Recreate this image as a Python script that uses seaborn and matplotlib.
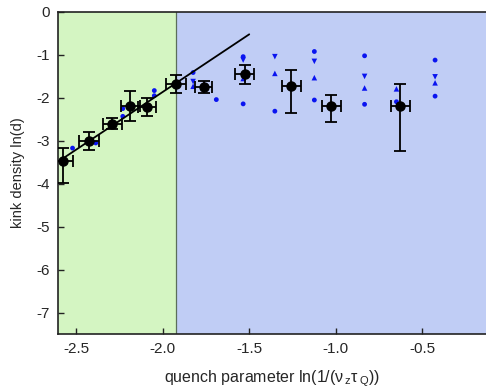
import numpy as np
import pandas as pd
import matplotlib
matplotlib.use("Agg")
import matplotlib.pyplot as plt
import seaborn as sns

# ---- data ----
mean_x = [-2.574, -2.425, -2.29, -2.187, -2.09, -1.923, -1.763, -1.525, -1.257, -1.025, -0.628]
mean_y = [-3.47, -3.00, -2.60, -2.19, -2.22, -1.68, -1.74, -1.45, -1.72, -2.20, -2.18]
yerr_lo = [0.52, 0.21, 0.13, 0.35, 0.21, 0.21, 0.14, 0.22, 0.64, 0.37, 1.05]
yerr_hi = [0.31, 0.21, 0.13, 0.35, 0.21, 0.21, 0.14, 0.22, 0.38, 0.27, 0.50]
xerr = [0.058, 0.056, 0.054, 0.056, 0.054, 0.058, 0.05, 0.055, 0.056, 0.055, 0.056]

circ_x = [-2.52, -2.386, -2.23, -2.23, -2.048, -2.048, -1.824, -1.69, -1.535, -1.535,
          -1.352, -1.124, -1.124, -0.834, -0.834, -0.65, -0.427, -0.427]
circ_y = [-3.17, -3.05, -2.25, -2.43, -1.83, -1.95, -1.41, -2.04, -1.04, -2.14,
          -2.31, -0.92, -2.05, -1.02, -2.15, -2.09, -1.12, -1.96]
tdown_x = [-1.824, -1.535, -1.352, -1.124, -0.834, -0.427]
tdown_y = [-1.62, -1.12, -1.04, -1.15, -1.50, -1.51]
tup_x = [-1.824, -1.535, -1.352, -1.124, -0.834, -0.65, -0.427]
tup_y = [-1.73, -1.55, -1.43, -1.53, -1.77, -1.79, -1.65]

fit_x = [-2.59, -1.50]
fit_y = [-3.45, -0.52]

boundary_x = -1.92
xlim = (-2.604, -0.133)
ylim = (-7.5, 0.0)
xticks = [-2.5, -2.0, -1.5, -1.0, -0.5]
yticks = [0, -1, -2, -3, -4, -5, -6, -7]

# ---- style ----
sns.set_style("ticks")
plt.rcParams['font.family'] = ['Liberation Sans', 'DejaVu Sans']
plt.rcParams['mathtext.default'] = 'regular'
plt.rcParams['xtick.direction'] = 'in'
plt.rcParams['ytick.direction'] = 'in'

fig = plt.figure(figsize=(4.86, 3.88), dpi=100)
ax = fig.add_axes([58/486, 54/388, (486-58)/486, 322/388])

ax.axvspan(xlim[0], boundary_x, color='#d4f5c2', zorder=0, lw=0)
ax.axvspan(boundary_x, xlim[1] + 1, color='#c0cdf5', zorder=0, lw=0)
ax.axvline(boundary_x, color='#5a6e5a', lw=0.9, zorder=1)

df_c = pd.DataFrame({'x': circ_x, 'y': circ_y})
df_d = pd.DataFrame({'x': tdown_x, 'y': tdown_y})
df_u = pd.DataFrame({'x': tup_x, 'y': tup_y})
sns.scatterplot(data=df_c, x='x', y='y', ax=ax, color='#0a14f0', marker='o', s=12, edgecolor='none', zorder=3)
sns.scatterplot(data=df_d, x='x', y='y', ax=ax, color='#0a14f0', marker='v', s=16, edgecolor='none', zorder=3)
sns.scatterplot(data=df_u, x='x', y='y', ax=ax, color='#0a14f0', marker='^', s=16, edgecolor='none', zorder=3)

df_fit = pd.DataFrame({'x': fit_x, 'y': fit_y})
sns.lineplot(data=df_fit, x='x', y='y', ax=ax, color='black', lw=1.3, zorder=4)

ax.errorbar(mean_x, mean_y, yerr=[yerr_lo, yerr_hi], xerr=xerr, fmt='o', color='black',
            ms=6.5, elinewidth=1.3, capsize=4, capthick=1.3, zorder=5)

ax.set_xlim(*xlim)
ax.set_ylim(*ylim)
ax.set_xticks(xticks)
ax.set_xticklabels(['-2.5', '-2.0', '-1.5', '-1.0', '-0.5'])
ax.set_yticks(yticks)
ax.set_yticklabels([str(v) for v in yticks])
ax.tick_params(labelsize=11, length=4, width=1, color='#222222', pad=6)
ax.set_xlabel('quench parameter ln(1/(ν$_{\\,z}$τ$_{\\,Q}$))', fontsize=11.5, labelpad=9)
ax.set_ylabel('kink density ln(d)', fontsize=10.5, labelpad=8)
for s in ['left', 'bottom', 'top']:
    ax.spines[s].set_color('#222222')
    ax.spines[s].set_linewidth(1.2)
ax.spines['right'].set_visible(False)

fig.savefig('out.png', dpi=100)
